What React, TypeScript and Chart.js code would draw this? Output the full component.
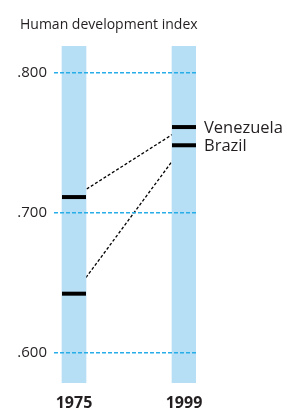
import React, { useEffect, useRef } from "react";
import { Chart, registerables } from "chart.js";

Chart.register(...registerables);

const title = "Human development index";
const years = [1975, 1999];
const countries = ["Venezuela", "Brazil"];
const venezuela = [0.711, 0.761];
const brazil = [0.642, 0.748];
const yTicks = [0.6, 0.7, 0.8];
const columnRange = [0.5782, 0.8189];

const FONT = "'Open Sans', sans-serif";
const TEXT = "#231f20";
const COLUMN = "#b6def5";
const GRID = "#27aee8";

export default function App() {
  const ref = useRef<HTMLCanvasElement>(null);

  useEffect(() => {
    const canvas = ref.current;
    if (!canvas) return;
    const series = [venezuela, brazil];

    const labelPlugin = {
      id: "labels",
      afterDraw(chart: any) {
        const ctx = chart.ctx;
        ctx.save();
        ctx.fillStyle = TEXT;
        ctx.font = `14px ${FONT}`;
        ctx.textAlign = "left";
        ctx.textBaseline = "alphabetic";
        ctx.fillText(title, 20, 29);
        ctx.font = `16.5px ${FONT}`;
        ctx.textBaseline = "middle";
        chart.data.datasets.forEach((ds: any, i: number) => {
          if (!ds.isMark) return;
          const meta = chart.getDatasetMeta(i);
          const pt = meta.data[meta.data.length - 1];
          ctx.fillText(ds.label, pt.x + 20, pt.y + 1);
        });
        ctx.restore();
      },
    };

    const datasets: any[] = [];
    series.forEach((vals, i) => {
      datasets.push({
        type: "line",
        label: countries[i] + " link",
        data: years.map((y, j) => ({ x: y, y: vals[j] })),
        borderColor: "#000",
        borderWidth: 1.3,
        borderDash: [3, 2],
        pointRadius: 0,
        fill: false,
        order: 3,
      });
    });
    datasets.push({
      type: "bar",
      label: "columns",
      data: years.map((y) => ({ x: y, y: columnRange })),
      backgroundColor: COLUMN,
      borderWidth: 0,
      barThickness: 24,
      order: 2,
    });
    series.forEach((vals, i) => {
      datasets.push({
        type: "line",
        label: countries[i],
        isMark: true,
        data: years.map((y, j) => ({ x: y, y: vals[j] })),
        showLine: false,
        pointStyle: "line",
        pointRadius: 12,
        pointBorderWidth: 4,
        pointBorderColor: "#000",
        borderColor: "#000",
        order: 1,
      });
    });

    const chart = new Chart(canvas, {
      type: "bar",
      data: { datasets },
      options: {
        animation: false,
        responsive: false,
        devicePixelRatio: 1,
        events: [],
        layout: { padding: { top: 46, right: 91, left: 0, bottom: 0 } },
        plugins: { legend: { display: false }, tooltip: { enabled: false }, title: { display: false } },
        scales: {
          x: {
            type: "linear",
            min: 1970.636,
            max: 2001.618,
            offset: false,
            grid: { display: false },
            border: { display: false },
            afterBuildTicks: (s: any) => {
              s.ticks = years.map((v) => ({ value: v }));
            },
            afterFit: (s: any) => {
              s.height = 25;
            },
            ticks: {
              autoSkip: false,
              maxRotation: 0,
              padding: 3,
              color: TEXT,
              font: { family: FONT, size: 16, weight: "bold" },
              callback: (v: any) => String(v),
            },
          },
          y: {
            type: "linear",
            min: columnRange[0],
            max: columnRange[1],
            border: { display: false, dash: [4, 2] },
            grid: {
              color: GRID,
              lineWidth: 1.5,
              drawTicks: false,
              z: 1,
            } as any,
            afterBuildTicks: (s: any) => {
              s.ticks = yTicks.map((v) => ({ value: v }));
            },
            afterFit: (s: any) => {
              s.width = 54;
            },
            ticks: {
              padding: 7,
              color: TEXT,
              font: { family: FONT, size: 15 },
              callback: (v: any) => Number(v).toFixed(3).replace(/^0/, ""),
            },
          },
        },
      },
      plugins: [labelPlugin],
    } as any);

    return () => chart.destroy();
  }, []);

  return (
    <div style={{ position: "absolute", left: 0, top: 0, width: 287, height: 408, overflow: "hidden", background: "#fff" }}>
      <canvas ref={ref} width={287} height={408} style={{ display: "block" }} />
    </div>
  );
}
